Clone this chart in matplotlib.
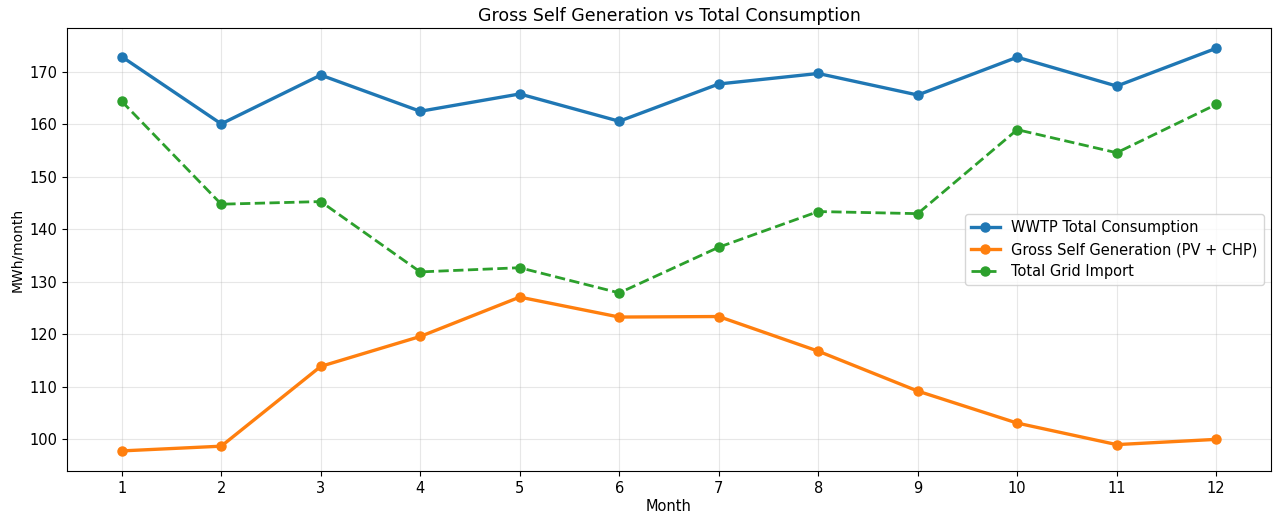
import numpy as np
import matplotlib
matplotlib.use('Agg')
import matplotlib.pyplot as plt

months = list(range(1, 13))
consumption = [172.9, 160.1, 169.4, 162.5, 165.8, 160.6, 167.7, 169.7, 165.6, 172.8, 167.3, 174.5]
self_gen = [97.8, 98.7, 113.9, 119.6, 127.1, 123.3, 123.4, 116.8, 109.2, 103.1, 99.0, 100.0]
grid_import = [164.4, 144.8, 145.3, 131.9, 132.7, 127.9, 136.6, 143.4, 143.0, 159.0, 154.6, 163.8]

fig, ax = plt.subplots(figsize=(12.74, 5.12), dpi=100)
ax.plot(months, consumption, marker='o', markersize=6.5, linewidth=2.4, label='WWTP Total Consumption')
ax.plot(months, self_gen, marker='o', markersize=6.5, linewidth=2.4, label='Gross Self Generation (PV + CHP)')
ax.plot(months, grid_import, marker='o', markersize=6.5, linestyle='--', linewidth=2.0, label='Total Grid Import')

ax.set_title('Gross Self Generation vs Total Consumption', fontsize=12.5, pad=5)
ax.set_xlabel('Month', fontsize=10.5, labelpad=2)
ax.set_ylabel('MWh/month', fontsize=10)
ax.set_xticks(months)
ax.tick_params(labelsize=10.5)
ax.grid(True, alpha=0.3)
ax.legend(loc='center right', fontsize=10.5)
fig.subplots_adjust(left=0.0526, right=0.9976, top=0.945, bottom=0.08)
fig.savefig('out.png')
